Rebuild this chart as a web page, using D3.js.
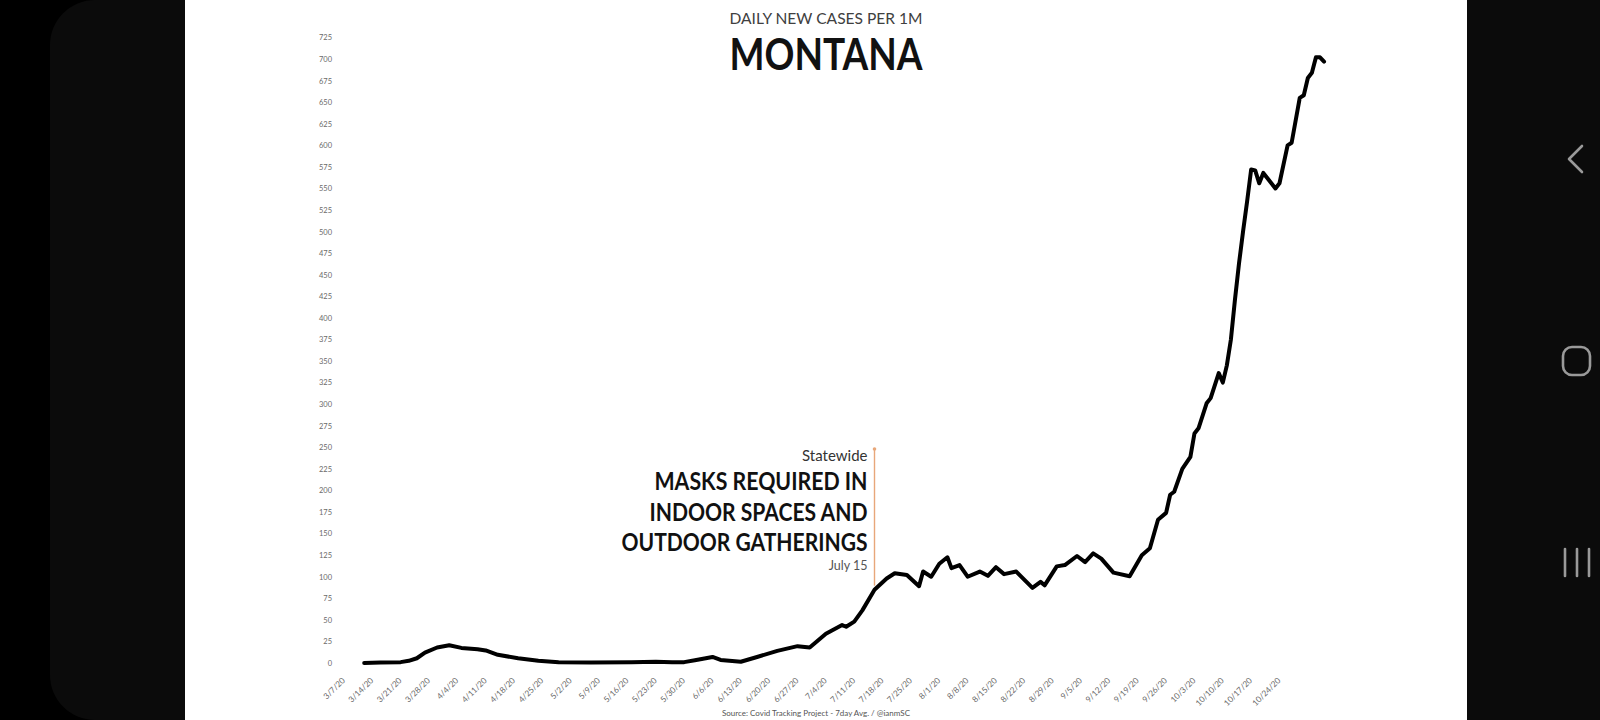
<!DOCTYPE html>
<html><head><meta charset="utf-8">
<script src="https://cdn.jsdelivr.net/npm/d3@7"></script>
<style>html,body{margin:0;padding:0;background:#000;overflow:hidden}</style>
</head><body>
<svg id="c" width="1600" height="720"></svg>
<script>
// ---- data (7-day avg daily new cases per 1M, Montana) ----
const dates = ["2020-03-11","2020-03-15","2020-03-20","2020-03-22","2020-03-24","2020-03-26","2020-03-29","2020-04-01","2020-04-04","2020-04-08","2020-04-10","2020-04-13","2020-04-18","2020-04-23","2020-04-28","2020-05-06","2020-05-16","2020-05-22","2020-05-26","2020-05-29","2020-06-01","2020-06-05","2020-06-07","2020-06-12","2020-06-16","2020-06-21","2020-06-26","2020-06-29","2020-07-03","2020-07-07","2020-07-08","2020-07-10","2020-07-12","2020-07-15","2020-07-18","2020-07-20","2020-07-23","2020-07-26","2020-07-27","2020-07-29","2020-07-31","2020-08-02","2020-08-03","2020-08-05","2020-08-07","2020-08-10","2020-08-12","2020-08-14","2020-08-16","2020-08-19","2020-08-23","2020-08-25","2020-08-26","2020-08-29","2020-08-31","2020-09-03","2020-09-05","2020-09-07","2020-09-09","2020-09-12","2020-09-16","2020-09-19","2020-09-21","2020-09-23","2020-09-25","2020-09-26","2020-09-27","2020-09-29","2020-10-01","2020-10-02","2020-10-03","2020-10-05","2020-10-06","2020-10-08","2020-10-09","2020-10-10","2020-10-11","2020-10-12","2020-10-13","2020-10-14","2020-10-15","2020-10-16","2020-10-17","2020-10-18","2020-10-19","2020-10-22","2020-10-23","2020-10-25","2020-10-26","2020-10-28","2020-10-29","2020-10-30","2020-10-31","2020-11-01","2020-11-02","2020-11-03"];
const values = [0,0.5,1,2.5,5.5,12,18,20.5,17.5,16,14.5,9.5,5.5,2.5,0.8,0.5,0.8,1.5,0.8,1,3.5,7,3.5,1.5,7,14,19.5,18,34,44,42,48,61,85,98,104,102,89,106,100,115,122.5,110,113.5,100,106,101,111,103,106,87,94,90,112,113.5,124,117,127,121,104.7,100.5,125,133,166,174,195,198.5,225,239,266,272,301,307,336,325,345,375,421,463,500,535,572,571,556,568,550,556,600,603,655,658,678,684,702,702,697];
const yTicks = d3.range(0, 726, 25);
const xTickDates = ["2020-03-07","2020-03-14","2020-03-21","2020-03-28","2020-04-04","2020-04-11","2020-04-18","2020-04-25","2020-05-02","2020-05-09","2020-05-16","2020-05-23","2020-05-30","2020-06-06","2020-06-13","2020-06-20","2020-06-27","2020-07-04","2020-07-11","2020-07-18","2020-07-25","2020-08-01","2020-08-08","2020-08-15","2020-08-22","2020-08-29","2020-09-05","2020-09-12","2020-09-19","2020-09-26","2020-10-03","2020-10-10","2020-10-17","2020-10-24"];
const annotationDate = "2020-07-15";
const titleText = "DAILY NEW CASES PER 1M";
const stateText = "MONTANA";
const annLines = ["MASKS REQUIRED IN","INDOOR SPACES AND","OUTDOOR GATHERINGS"];
const sourceText = "Source: Covid Tracking Project - 7day Avg. / @ianmSC";

const parse = d3.utcParse("%Y-%m-%d");
const data = dates.map((d,i)=>({date:parse(d), v:values[i]}));

const svg = d3.select("#c");
// phone frame
svg.append("rect").attr("x",0).attr("y",0).attr("width",1600).attr("height",720).attr("fill","#000");
svg.append("rect").attr("x",50).attr("y",0).attr("width",1650).attr("height",720).attr("rx",45).attr("fill","#0b0b0b");
svg.append("rect").attr("x",185).attr("y",0).attr("width",1282).attr("height",720).attr("fill","#fff");

// nav icons
const nav = svg.append("g").attr("fill","none").attr("stroke","#9a9a9a").attr("stroke-width",2.6).attr("stroke-linecap","round").attr("stroke-linejoin","round");
nav.append("polyline").attr("points","1582,146 1569,159 1582,172");
nav.append("rect").attr("x",1563).attr("y",347).attr("width",27).attr("height",28).attr("rx",9);
[1565,1577,1589].forEach(x=>nav.append("line").attr("x1",x).attr("x2",x).attr("y1",549).attr("y2",576));

const x0 = parse("2020-03-07");
const x1 = parse("2020-11-03");
const x = d3.scaleUtc().domain([x0,x1]).range([348, 348+241*4.05]);
const y = d3.scaleLinear().domain([0,725]).range([663, 663-725*0.8628]);

const font = "Lato, 'Open Sans', sans-serif";

// y axis
const ya = svg.append("g").attr("transform","translate(336,0)")
  .call(d3.axisLeft(y).tickValues(yTicks).tickSize(0).tickPadding(4));
ya.select(".domain").remove();
ya.selectAll("text").attr("font-family",font).attr("font-size",7.5).attr("fill","#6a6a6a");

// x axis
const xa = svg.append("g").attr("transform","translate(0,663)")
  .call(d3.axisBottom(x).tickValues(xTickDates.map(parse)).tickSize(0).tickFormat(d3.utcFormat("%-m/%-d/%y")));
xa.select(".domain").remove();
xa.selectAll("text").attr("font-family",font).attr("font-size",8.2).attr("fill","#6a6a6a")
  .attr("text-anchor","end").attr("x",0).attr("y",0).attr("dy","0.35em")
  .attr("transform","translate(-5,16) rotate(-45)");

// line
svg.append("path").datum(data)
  .attr("fill","none").attr("stroke","#000").attr("stroke-width",4).attr("stroke-linejoin","round").attr("stroke-linecap","round")
  .attr("d", d3.line().x(d=>x(d.date)).y(d=>y(d.v)).curve(d3.curveLinear));

// annotation
const ax = x(parse(annotationDate));
const annV = values[dates.indexOf(annotationDate)];
svg.append("line").attr("x1",ax).attr("x2",ax).attr("y1",y(annV)-4).attr("y2",449)
  .attr("stroke","#e8a77a").attr("stroke-width",1.4);
svg.append("circle").attr("cx",ax).attr("cy",449).attr("r",1.8).attr("fill","#e8a77a");
const tx = ax - 7;
svg.append("text").attr("x",tx).attr("y",461).attr("text-anchor","end").attr("font-family",font)
  .attr("font-size",15).attr("fill","#333").text("Statewide");
const annWidths = [213, 218, 246];
annLines.forEach((t,i)=>{
  svg.append("text").attr("x",tx).attr("y",490+i*30.5).attr("text-anchor","end").attr("font-family",font)
    .attr("font-weight","bold").attr("font-size",24).attr("fill","#111")
    .attr("textLength",annWidths[i]).attr("lengthAdjust","spacingAndGlyphs").text(t);
});
svg.append("text").attr("x",tx).attr("y",570).attr("text-anchor","end").attr("font-family",font)
  .attr("font-size",12.5).attr("fill","#555").text("July 15");

// titles
svg.append("text").attr("x",826).attr("y",24).attr("text-anchor","middle").attr("font-family",font)
  .attr("font-size",15).attr("fill","#404040").attr("textLength",193).attr("lengthAdjust","spacingAndGlyphs").text(titleText);
svg.append("text").attr("x",826).attr("y",70).attr("text-anchor","middle").attr("font-family",font)
  .attr("font-weight","bold").attr("font-size",43).attr("fill","#111").attr("textLength",193).attr("lengthAdjust","spacingAndGlyphs").text(stateText);

svg.append("text").attr("x",722).attr("y",716).attr("font-family",font)
  .attr("font-size",7.5).attr("fill","#555").attr("textLength",188).attr("lengthAdjust","spacingAndGlyphs").text(sourceText);
</script>
</body></html>
